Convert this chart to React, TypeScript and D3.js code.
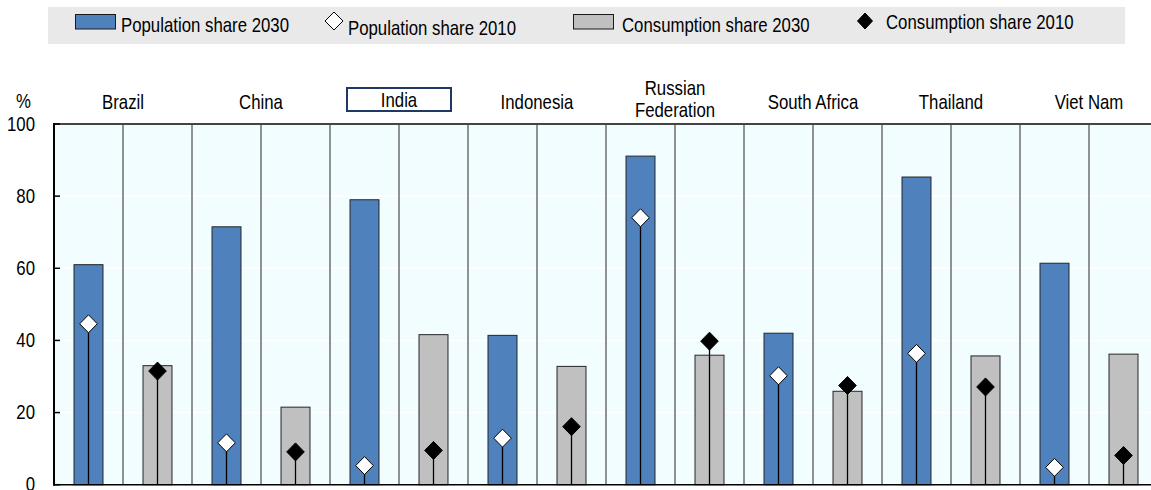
import React from "react";
import * as d3 from "d3";

const countries = ["Brazil", "China", "India", "Indonesia", "Russian Federation", "South Africa", "Thailand", "Viet Nam"];
const countryLines = [["Brazil"], ["China"], ["India"], ["Indonesia"], ["Russian", "Federation"], ["South Africa"], ["Thailand"], ["Viet Nam"]];
const highlighted = "India";
const pop2030 = [61, 71.5, 79, 41.4, 91.1, 42, 85.3, 61.4];
const pop2010 = [44.6, 11.6, 5.3, 12.9, 74, 30.2, 36.4, 4.8];
const cons2030 = [33, 21.5, 41.6, 32.8, 35.9, 25.9, 35.7, 36.2];
const cons2010 = [31.5, 9.1, 9.5, 16.1, 39.8, 27.5, 27.1, 8.1];
const yTicks = [0, 20, 40, 60, 80, 100];
const seriesKeys = ["pop", "cons"];
const legendLabels = ["Population share 2030", "Population share 2010", "Consumption share 2030", "Consumption share 2010"];

const W = 1151;
const H = 490;
const FONT = "'Liberation Sans', Arial, sans-serif";
const SX = 0.84;
const FS = 20;
const BLUE = "#4f81bd";
const GRAY = "#c0c0c0";

function T({ x, y, children, anchor = "start", size = FS }: any) {
  return (
    <text
      transform={`translate(${x},${y}) scale(${SX},1)`}
      textAnchor={anchor}
      fontFamily={FONT}
      fontSize={size}
      fill="#000"
    >
      {children}
    </text>
  );
}

function diamond(cx: number, cy: number, hw: number, hh: number) {
  return `M${cx},${cy - hh}L${cx + hw},${cy}L${cx},${cy + hh}L${cx - hw},${cy}Z`;
}

export default function App() {
  const left = 54;
  const right = 1158;
  const top = 124;
  const bottom = 484.7;

  const x0 = d3.scaleBand<string>().domain(countries).range([left, right]).paddingInner(0).paddingOuter(0);
  const x1 = d3.scaleBand<string>().domain(seriesKeys).range([0, x0.bandwidth()]);
  const y = d3.scaleLinear().domain([0, 100]).range([bottom, top]);

  const barW = x1.bandwidth() * 0.42;
  const slotEdges: number[] = [];
  countries.forEach((c) => {
    seriesKeys.forEach((k) => {
      slotEdges.push((x0(c) as number) + (x1(k) as number));
    });
  });

  const vals = { pop: [pop2030, pop2010], cons: [cons2030, cons2010] } as any;

  return (
    <svg width={W} height={H} style={{ position: "absolute", left: 0, top: 0, background: "#fff" }}>
      {/* legend */}
      <rect x={48} y={7} width={1077} height={37} fill="#e9e9e9" />
      <rect x={75.5} y={14.5} width={40} height={14.5} fill={BLUE} stroke="#1a1a1a" strokeWidth={1} />
      <T x={121} y={32}>{legendLabels[0]}</T>
      <path d={diamond(334, 21, 9, 9)} fill="#fff" stroke="#000" strokeWidth={1} />
      <T x={348} y={35}>{legendLabels[1]}</T>
      <rect x={573.5} y={14.5} width={40} height={14.5} fill={GRAY} stroke="#1a1a1a" strokeWidth={1} />
      <T x={622} y={32}>{legendLabels[2]}</T>
      <path d={diamond(865, 21, 7.5, 8)} fill="#000" stroke="#000" strokeWidth={1} />
      <T x={886} y={29}>{legendLabels[3]}</T>

      {/* plot background */}
      <rect x={left} y={top} width={right - left} height={bottom - top} fill="#f2fdff" />
      {yTicks.filter((t) => t > 0 && t < 100).map((t) => (
        <line key={t} x1={left} x2={right} y1={y(t)} y2={y(t)} stroke="#ffffff" strokeWidth={1.5} />
      ))}
      {slotEdges.slice(1).map((e, i) => (
        <line key={i} x1={e} x2={e} y1={top} y2={bottom} stroke="#6e6e6e" strokeWidth={1.5} />
      ))}

      {/* bars, stems, markers */}
      {countries.map((c, i) =>
        seriesKeys.map((k) => {
          const cx = (x0(c) as number) + (x1(k) as number) + x1.bandwidth() / 2;
          const v30 = vals[k][0][i];
          const v10 = vals[k][1][i];
          return (
            <g key={c + k}>
              <rect
                x={cx - barW / 2}
                y={y(v30)}
                width={barW}
                height={y(0) - y(v30)}
                fill={k === "pop" ? BLUE : GRAY}
                stroke="#262626"
                strokeWidth={1}
              />
              <line x1={cx} x2={cx} y1={y(0)} y2={y(v10)} stroke="#000" strokeWidth={1.3} />
              <path
                d={diamond(cx, y(v10), 8.8, 9)}
                fill={k === "pop" ? "#fff" : "#000"}
                stroke="#000"
                strokeWidth={1}
              />
            </g>
          );
        })
      )}

      {/* axes */}
      <line x1={left} x2={right} y1={top} y2={top} stroke="#444" strokeWidth={2} />
      <line x1={left} x2={right} y1={bottom} y2={bottom} stroke="#000" strokeWidth={1.5} />
      <line x1={left} x2={left} y1={top - 1} y2={bottom + 1} stroke="#000" strokeWidth={2} />
      {yTicks.map((t) => (
        <g key={t}>
          <line x1={left} x2={left + 6} y1={y(t)} y2={y(t)} stroke="#000" strokeWidth={1.5} />
          <T x={35} y={y(t) + 6.5} anchor="end">{String(t)}</T>
        </g>
      ))}
      <T x={23.5} y={108} anchor="middle">%</T>

      {/* category labels */}
      {countries.map((c, i) => {
        const cx = (x0(c) as number) + x0.bandwidth() / 2;
        const lines = countryLines[i];
        return (
          <g key={c}>
            {c === highlighted && (
              <rect x={cx - 52} y={88} width={104} height={23} fill="#fff" stroke="#1f3864" strokeWidth={2} />
            )}
            {lines.length === 1 ? (
              <T x={cx} y={c === highlighted ? 107 : 109} anchor="middle">{lines[0]}</T>
            ) : (
              lines.map((l, j) => (
                <T key={l} x={cx} y={95 + j * 22} anchor="middle">{l}</T>
              ))
            )}
          </g>
        );
      })}
    </svg>
  );
}
